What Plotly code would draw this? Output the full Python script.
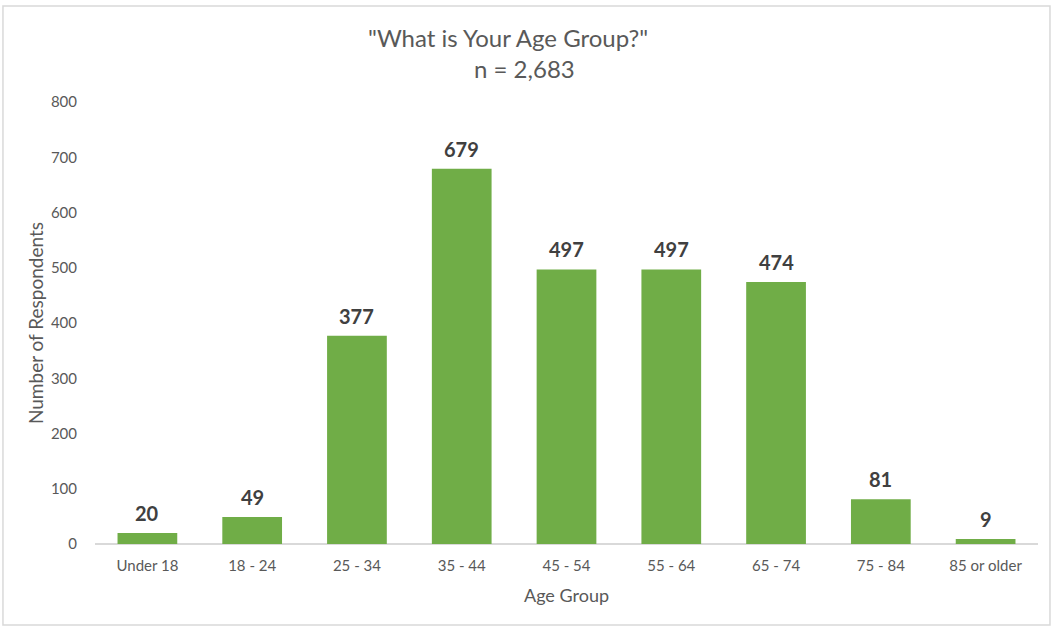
import plotly.graph_objects as go

# data
age_groups = ['Under 18', '18 - 24', '25 - 34', '35 - 44', '45 - 54',
              '55 - 64', '65 - 74', '75 - 84', '85 or older']
respondents = [20, 49, 377, 679, 497, 497, 474, 81, 9]
y_ticks = [0, 100, 200, 300, 400, 500, 600, 700, 800]
title_lines = ['"What is Your Age Group?"', 'n = 2,683']

FONT = 'Lato, "Open Sans", sans-serif'
GRAY = '#595959'

fig = go.Figure()

fig.add_trace(
    go.Bar(
        x=age_groups, y=respondents,
        marker=dict(color='#70AD47', line=dict(width=0)),
        hovertemplate='%{x}: %{y}<extra></extra>',
    )
)

# value labels above the bars
for cat, val in zip(age_groups, respondents):
    fig.add_annotation(
        x=cat, y=val, text=str(val),
        showarrow=False, yanchor='bottom', yshift=6,
        font=dict(family=FONT, size=20, color='#404040', weight='bold'),
    )

fig.update_layout(
    width=1055, height=627,
    margin=dict(l=95, r=17, t=102, b=83),
    paper_bgcolor='white',
    plot_bgcolor='white',
    bargap=0.43,
    showlegend=False,
    font=dict(family=FONT, size=15, color=GRAY),
)

# two-line title
fig.add_annotation(text=title_lines[0], xref='paper', yref='paper',
                   x=0.438, y=1.1448, showarrow=False,
                   xanchor='center', yanchor='middle',
                   font=dict(size=24, color=GRAY))
fig.add_annotation(text=title_lines[1], xref='paper', yref='paper',
                   x=0.455, y=1.0769, showarrow=False,
                   xanchor='center', yanchor='middle',
                   font=dict(size=24, color=GRAY))

fig.update_xaxes(
    showgrid=False, zeroline=False,
    showline=False, ticks='',
    ticklabelstandoff=11,
    tickfont=dict(size=15, color=GRAY),
    title=dict(text='Age Group', font=dict(size=18, color=GRAY), standoff=16),
)
fig.update_yaxes(
    range=[0, 800],
    tickvals=y_ticks,
    showgrid=False, zeroline=True, zerolinecolor='#D9D9D9', zerolinewidth=1.5,
    showline=False, ticks='',
    ticklabelstandoff=17,
    tickfont=dict(size=15, color=GRAY),
    title=dict(text='Number of Respondents', font=dict(size=19, color=GRAY), standoff=2),
)

# light frame around the whole chart
fig.add_shape(
    type='rect', xref='paper', yref='paper',
    x0=-0.0976, x1=1.0127, y0=-0.1833, y1=1.2172,
    line=dict(color='#D9D9D9', width=1.5),
    fillcolor='rgba(0,0,0,0)',
    layer='below',
)

fig.write_html('out.html', config={'displayModeBar': False},
               post_script="document.body.style.margin='0';")
